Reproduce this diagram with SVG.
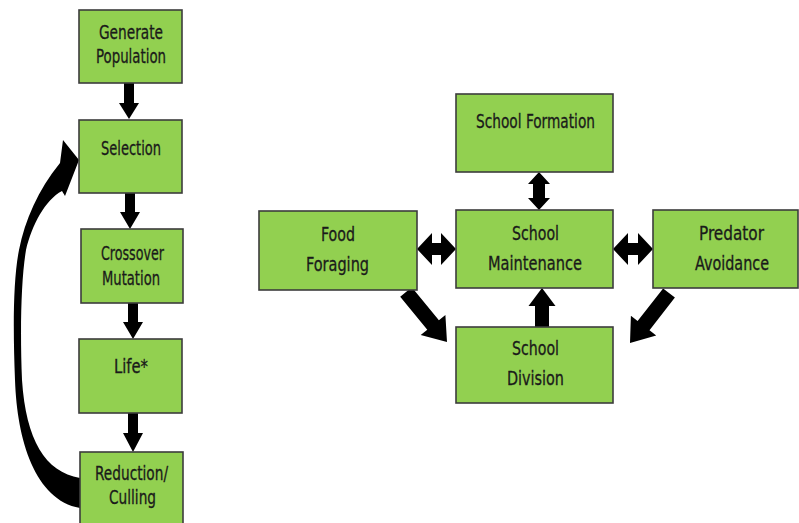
<svg xmlns="http://www.w3.org/2000/svg" width="799" height="523" viewBox="0 0 799 523">
  <style>
    .box { fill: #92d050; stroke: #3c3c3c; stroke-width: 1.6; }
    .lbl { font-family: "DejaVu Sans Condensed", "DejaVu Sans", sans-serif; font-size: 20px; fill: #1a1a1a; stroke: #1a1a1a; stroke-width: 0.3; text-anchor: middle; }
    .arr { fill: #000; stroke: none; }
  </style>
  <rect width="799" height="523" fill="#fff"/>

  <!-- connectors -->
  <g id="connectors">
    <!-- left column: vertical flow arrows -->
    <polygon class="arr" points="124,83 134,83 134,103 139,103 129,119 119,103 124,103"/>
    <polygon class="arr" points="125,193 135,193 135,212 140,212 130,229 120,212 125,212"/>
    <polygon class="arr" points="128,303 138,303 138,322 143,322 133,339 123,322 128,322"/>
    <polygon class="arr" points="128,413 138,413 138,433 143,433 133,452 123,433 128,433"/>
    <!-- loop back from Reduction/Culling to Selection -->
    <path class="arr" d="M80,508 C35,500 17,440 15,380 C13,330 13,280 19,250 C25,220 38,190 60,163 L63,140 L79,160 L65,196 L62,191 C45,200 32,225 26,250 C21,280 20,330 22,380 C26,440 45,472 80,478 Z"/>
    <!-- right cluster -->
    <polygon class="arr" points="539,172 550,184 545,184 545,198 550,198 539,210 528,198 533,198 533,184 528,184"/>
    <polygon class="arr" points="417,249 432,233 432,243 441,243 441,233 456,249 441,265 441,255 432,255 432,265"/>
    <polygon class="arr" points="613,249 628,233 628,243 638,243 638,233 653,249 638,265 638,255 628,255 628,265"/>
    <polygon class="arr" points="542,288 555.5,306 549,306 549,327 535,327 535,306 528.5,306"/>
    <polygon class="arr" points="400.2,296.8 411.8,287.2 438.9,320.2 445.4,314.9 447,342 420.7,335.1 427.3,329.8"/>
    <polygon class="arr" points="663.1,288.4 674.9,297.6 649.5,330.3 656.2,335.5 630,343 630.9,315.8 637.6,321"/>
  </g>

  <!-- left column nodes -->
  <g id="generate">
    <rect class="box" x="79" y="10" width="103" height="73"/>
    <text class="lbl" x="131" y="39" textLength="64" lengthAdjust="spacingAndGlyphs">Generate</text>
    <text class="lbl" x="131" y="63" textLength="70" lengthAdjust="spacingAndGlyphs">Population</text>
  </g>
  <g id="selection">
    <rect class="box" x="79" y="120" width="103" height="73"/>
    <text class="lbl" x="131" y="155" textLength="60" lengthAdjust="spacingAndGlyphs">Selection</text>
  </g>
  <g id="crossover">
    <rect class="box" x="81" y="229" width="102" height="74"/>
    <text class="lbl" x="132.5" y="260" textLength="63" lengthAdjust="spacingAndGlyphs">Crossover</text>
    <text class="lbl" x="131" y="285" textLength="58" lengthAdjust="spacingAndGlyphs">Mutation</text>
  </g>
  <g id="life">
    <rect class="box" x="79" y="339" width="103" height="74"/>
    <text class="lbl" x="131" y="373" textLength="34" lengthAdjust="spacingAndGlyphs">Life*</text>
  </g>
  <g id="reduction">
    <rect class="box" x="80" y="452" width="103" height="80"/>
    <text class="lbl" x="131.5" y="480" textLength="73" lengthAdjust="spacingAndGlyphs">Reduction/</text>
    <text class="lbl" x="132.5" y="504" textLength="47" lengthAdjust="spacingAndGlyphs">Culling</text>
  </g>

  <!-- school behaviour nodes -->
  <g id="formation">
    <rect class="box" x="456" y="94" width="157" height="78"/>
    <text class="lbl" x="535.5" y="128" textLength="119" lengthAdjust="spacingAndGlyphs">School Formation</text>
  </g>
  <g id="foraging">
    <rect class="box" x="259" y="211" width="158" height="79"/>
    <text class="lbl" x="338" y="241" textLength="34" lengthAdjust="spacingAndGlyphs">Food</text>
    <text class="lbl" x="337.5" y="271" textLength="63" lengthAdjust="spacingAndGlyphs">Foraging</text>
  </g>
  <g id="maintenance">
    <rect class="box" x="456" y="210" width="157" height="78"/>
    <text class="lbl" x="535.5" y="240" textLength="47" lengthAdjust="spacingAndGlyphs">School</text>
    <text class="lbl" x="535" y="270" textLength="94" lengthAdjust="spacingAndGlyphs">Maintenance</text>
  </g>
  <g id="predator">
    <rect class="box" x="653" y="210" width="145" height="78"/>
    <text class="lbl" x="731.5" y="240" textLength="65" lengthAdjust="spacingAndGlyphs">Predator</text>
    <text class="lbl" x="732" y="270" textLength="74" lengthAdjust="spacingAndGlyphs">Avoidance</text>
  </g>
  <g id="division">
    <rect class="box" x="456" y="327" width="157" height="76"/>
    <text class="lbl" x="535.5" y="355" textLength="47" lengthAdjust="spacingAndGlyphs">School</text>
    <text class="lbl" x="535.5" y="385" textLength="57" lengthAdjust="spacingAndGlyphs">Division</text>
  </g>
</svg>
